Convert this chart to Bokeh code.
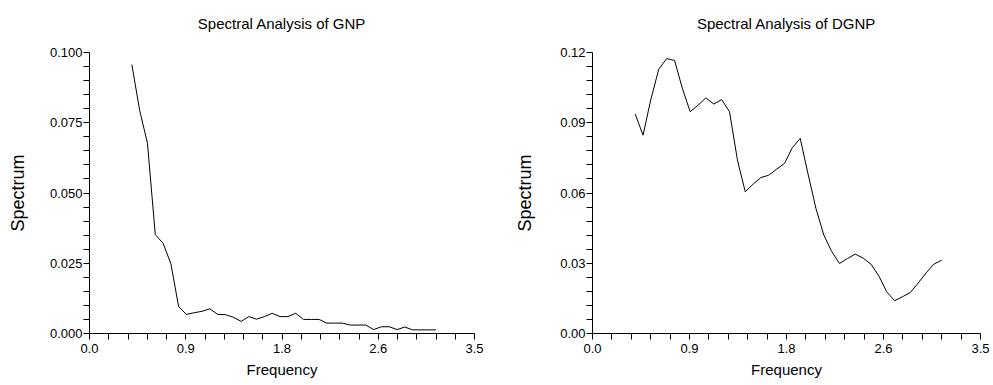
from bokeh.plotting import figure
from bokeh.models import FixedTicker, Range1d, ColumnDataSource
from bokeh.layouts import row
from bokeh.embed import file_html
from bokeh.resources import INLINE

# Frequencies
freq = [0.385, 0.456, 0.527, 0.598, 0.669, 0.740, 0.810, 0.881, 0.952, 1.023,
        1.094, 1.165, 1.236, 1.307, 1.378, 1.449, 1.519, 1.590, 1.661, 1.732,
        1.803, 1.874, 1.945, 2.016, 2.087, 2.158, 2.228, 2.299, 2.370, 2.441,
        2.512, 2.583, 2.654, 2.725, 2.796, 2.867, 2.937, 3.008, 3.079, 3.150]

gnp_spec = [0.0957, 0.0794, 0.0677, 0.0352, 0.0321, 0.0248, 0.0096, 0.0068, 0.0074, 0.0079,
            0.0088, 0.0068, 0.0067, 0.0058, 0.0043, 0.0060, 0.0051, 0.0060, 0.0072, 0.0060,
            0.0060, 0.0072, 0.0050, 0.0050, 0.0050, 0.0037, 0.0037, 0.0037, 0.0030, 0.0030,
            0.0030, 0.0014, 0.0024, 0.0024, 0.0014, 0.0023, 0.0013, 0.0013, 0.0013, 0.0013]

dgnp_spec = [0.0937, 0.0847, 0.1001, 0.1129, 0.1174, 0.1166, 0.1048, 0.0947, 0.0975, 0.1006,
             0.0980, 0.0999, 0.0947, 0.0742, 0.0605, 0.0638, 0.0666, 0.0676, 0.0702, 0.0726,
             0.0794, 0.0833, 0.0680, 0.0533, 0.0420, 0.0350, 0.0299, 0.0320, 0.0339, 0.0322,
             0.0296, 0.0246, 0.0178, 0.0140, 0.0157, 0.0175, 0.0215, 0.0258, 0.0296, 0.0313]

# tick positions: every 0.175 on x, labelled every fifth
x_ticks = [0.0, 0.175, 0.35, 0.525, 0.7, 0.875, 1.05, 1.225, 1.4, 1.575, 1.75,
           1.925, 2.1, 2.275, 2.45, 2.625, 2.8, 2.975, 3.15, 3.325, 3.5]
x_labels = ["0.0", "", "", "", "", "0.9", "", "", "", "", "1.8",
            "", "", "", "", "2.6", "", "", "", "", "3.5"]

gnp_ticks = [0.0, 0.005, 0.01, 0.015, 0.02, 0.025, 0.03, 0.035, 0.04, 0.045, 0.05,
             0.055, 0.06, 0.065, 0.07, 0.075, 0.08, 0.085, 0.09, 0.095, 0.1]
gnp_labels = ["0.000", "", "", "", "", "0.025", "", "", "", "", "0.050",
              "", "", "", "", "0.075", "", "", "", "", "0.100"]

dgnp_ticks = [0.0, 0.006, 0.012, 0.018, 0.024, 0.03, 0.036, 0.042, 0.048, 0.054, 0.06,
              0.066, 0.072, 0.078, 0.084, 0.09, 0.096, 0.102, 0.108, 0.114, 0.12]
dgnp_labels = ["0.00", "", "", "", "", "0.03", "", "", "", "", "0.06",
               "", "", "", "", "0.09", "", "", "", "", "0.12"]

FONT = "Liberation Sans"


def make(title, yvals, yticks, ylabels, ymax, width, bl, br, ylab_standoff):
    src = ColumnDataSource(dict(x=freq, y=yvals))
    p = figure(width=width, height=385, x_range=Range1d(0, 3.5), y_range=Range1d(0, ymax),
               output_backend="svg", toolbar_location=None,
               min_border_left=bl, min_border_right=br, min_border_top=52, min_border_bottom=52)
    p.line("x", "y", source=src, line_color="black", line_width=1)
    # blank second line lifts the title towards the top edge
    p.title.text = title + "\n"
    p.title.align = "center"
    p.title.vertical_align = "bottom"
    p.title.text_font = FONT
    p.title.text_font_size = "15px"
    p.title.text_font_style = "normal"
    p.title.text_color = "black"
    p.title.standoff = 8
    p.outline_line_color = None
    p.xgrid.visible = False
    p.ygrid.visible = False

    xa = p.xaxis[0]
    xa.ticker = FixedTicker(ticks=x_ticks)
    xa.major_label_overrides = {t: l for t, l in zip(x_ticks, x_labels)}
    xa.axis_label = "Frequency"
    ya = p.yaxis[0]
    ya.ticker = FixedTicker(ticks=yticks)
    ya.major_label_overrides = {t: l for t, l in zip(yticks, ylabels)}
    ya.axis_label = "Spectrum"
    ya.axis_label_standoff = ylab_standoff
    xa.axis_label_standoff = 5
    xa.major_label_standoff = 4
    ya.major_label_standoff = 1
    for ax, fs in ((xa, "15px"), (ya, "18px")):
        ax.axis_line_color = "black"
        ax.axis_line_width = 1
        ax.major_tick_line_color = "black"
        ax.major_tick_line_width = 1
        ax.minor_tick_line_color = None
        ax.major_tick_in = 0
        ax.major_tick_out = 6
        ax.major_label_text_font = FONT
        ax.major_label_text_font_size = "13px"
        ax.major_label_text_color = "black"
        ax.axis_label_text_font = FONT
        ax.axis_label_text_font_size = fs
        ax.axis_label_text_font_style = "normal"
        ax.axis_label_text_color = "black"
    return p


p1 = make("Spectral Analysis of GNP", gnp_spec, gnp_ticks, gnp_labels, 0.1,
          496, 89, 22, 19)
p2 = make("Spectral Analysis of DGNP", dgnp_spec, dgnp_ticks, dgnp_labels, 0.12,
          497, 96, 13, 22)

layout = row(p1, p2)
open("out.html", "w").write(file_html(layout, INLINE))
